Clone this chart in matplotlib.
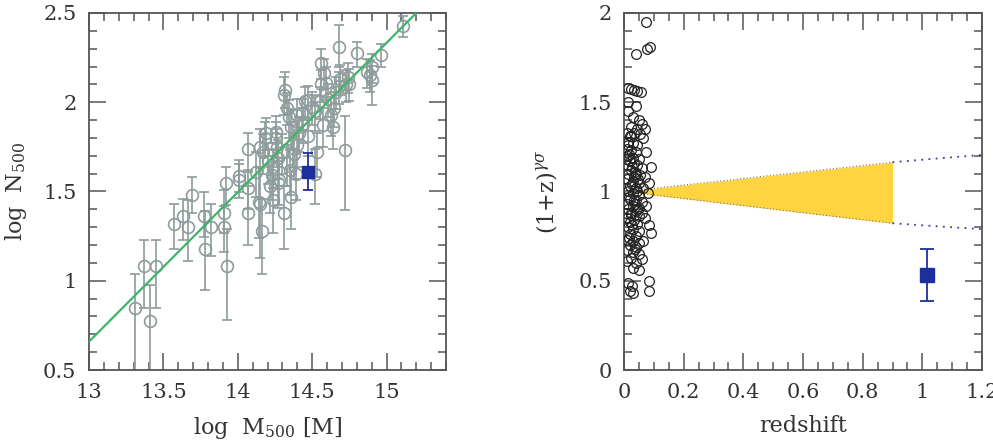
import matplotlib
matplotlib.use("Agg")
import matplotlib.pyplot as plt
from matplotlib.ticker import MultipleLocator, FuncFormatter
import numpy as np

plt.rcParams['font.family'] = ['DejaVu Serif']
plt.rcParams['mathtext.fontset'] = 'dejavuserif'

# ---------------- Left panel data: log M500, log N500, errors ----------------
logM = [13.31, 13.37, 13.41, 13.45, 13.57, 13.635, 13.665, 13.69, 13.77, 13.78,
        13.82, 13.91, 13.91, 13.92, 13.93, 14.01, 14.01, 14.07, 14.07, 14.07,
        14.14, 14.15, 14.16, 14.15, 14.18, 14.19, 14.17, 14.20, 14.22, 14.24,
        14.255, 14.255, 14.24, 14.265, 14.27, 14.28, 14.31, 14.31, 14.32, 14.33,
        14.345, 14.355, 14.36, 14.37, 14.38, 14.39, 14.40, 14.41, 14.43, 14.45,
        14.47, 14.50, 14.52, 14.52, 14.53, 14.55, 14.56, 14.56, 14.57, 14.58,
        14.59, 14.61, 14.63, 14.64, 14.65, 14.66, 14.68, 14.68, 14.69, 14.72,
        14.73, 14.74, 14.75, 14.80, 14.87, 14.89, 14.90, 14.90, 14.96, 15.11,
        14.30, 14.33, 14.35, 14.27, 14.23, 14.40, 14.44, 14.12, 14.47]
logN = [0.846, 1.08, 0.777, 1.08, 1.32, 1.36, 1.30, 1.48, 1.365, 1.18,
        1.30, 1.38, 1.30, 1.545, 1.08, 1.585, 1.565, 1.74, 1.52, 1.38,
        1.44, 1.43, 1.28, 1.75, 1.80, 1.83, 1.72, 1.67, 1.53, 1.64,
        1.835, 1.80, 1.45, 1.75, 1.69, 1.565, 1.38, 2.04, 2.07, 1.97,
        1.92, 1.86, 1.47, 1.77, 1.71, 1.60, 1.93, 1.83, 1.94, 2.005,
        2.01, 1.975, 1.95, 1.60, 1.72, 2.005, 2.22, 2.10, 1.87, 2.165,
        2.11, 2.02, 1.93, 1.86, 1.97, 2.06, 2.31, 2.09, 2.13, 1.735,
        2.10, 2.14, 2.105, 2.275, 2.17, 2.155, 2.20, 2.125, 2.265, 2.425,
        1.72, 1.66, 1.62, 1.55, 1.59, 1.76, 1.88, 1.61, 1.81]
errN_lo = [0.40, 0.23, 0.35, 0.23, 0.14, 0.13, 0.19, 0.10, 0.12, 0.23,
           0.16, 0.11, 0.14, 0.12, 0.30, 0.09, 0.10, 0.13, 0.12, 0.18,
           0.20, 0.30, 0.24, 0.12, 0.10, 0.10, 0.12, 0.13, 0.15, 0.12,
           0.10, 0.11, 0.18, 0.11, 0.12, 0.14, 0.20, 0.11, 0.10, 0.10,
           0.12, 0.12, 0.18, 0.13, 0.14, 0.15, 0.10, 0.11, 0.10, 0.09,
           0.10, 0.10, 0.11, 0.17, 0.14, 0.10, 0.09, 0.10, 0.12, 0.09,
           0.10, 0.10, 0.12, 0.12, 0.11, 0.10, 0.11, 0.10, 0.09, 0.34,
           0.10, 0.09, 0.10, 0.08, 0.09, 0.10, 0.09, 0.14, 0.07, 0.06,
           0.12, 0.13, 0.14, 0.14, 0.14, 0.12, 0.11, 0.14, 0.11]
errN_hi = [0.19, 0.15, 0.20, 0.15, 0.11, 0.10, 0.15, 0.10, 0.13, 0.21,
           0.13, 0.13, 0.12, 0.09, 0.21, 0.09, 0.09, 0.09, 0.10, 0.15,
           0.20, 0.20, 0.18, 0.10, 0.09, 0.08, 0.10, 0.10, 0.12, 0.10,
           0.09, 0.09, 0.14, 0.10, 0.10, 0.12, 0.15, 0.10, 0.10, 0.08,
           0.09, 0.10, 0.14, 0.10, 0.10, 0.11, 0.09, 0.09, 0.08, 0.08,
           0.08, 0.08, 0.09, 0.14, 0.11, 0.08, 0.08, 0.08, 0.10, 0.08,
           0.09, 0.08, 0.10, 0.10, 0.09, 0.08, 0.12, 0.08, 0.08, 0.19,
           0.08, 0.08, 0.08, 0.06, 0.07, 0.08, 0.07, 0.08, 0.06, 0.06,
           0.10, 0.10, 0.11, 0.12, 0.11, 0.10, 0.09, 0.11, 0.09]

# special (blue) object, left panel
blue_logM = [14.47]
blue_logN = [1.612]
blue_logN_lo = [0.106]
blue_logN_hi = [0.103]

# best-fit relation (endpoints)
fit_logM = [13.0, 15.2]
fit_logN = [0.659, 2.5]

# ---------------- Right panel data: redshift, (1+z)^gamma ----------------
z_obs = [0.074, 0.078, 0.088, 0.040, 0.012, 0.022, 0.033, 0.045, 0.058, 0.012,
         0.040, 0.015, 0.030, 0.050, 0.060, 0.025, 0.045, 0.070, 0.010, 0.020,
         0.035, 0.055, 0.065, 0.012, 0.030, 0.045, 0.010, 0.025, 0.040, 0.075,
         0.015, 0.030, 0.050, 0.020, 0.035, 0.010, 0.045, 0.060, 0.090, 0.025,
         0.015, 0.040, 0.055, 0.070, 0.010, 0.030, 0.050, 0.085, 0.020, 0.040,
         0.065, 0.012, 0.030, 0.050, 0.080, 0.020, 0.040, 0.060, 0.010, 0.030,
         0.050, 0.075, 0.015, 0.040, 0.060, 0.025, 0.050, 0.010, 0.035, 0.070,
         0.020, 0.045, 0.085, 0.012, 0.030, 0.090, 0.050, 0.020, 0.040, 0.010,
         0.030, 0.050, 0.065, 0.020, 0.040, 0.010, 0.030, 0.050, 0.025, 0.060,
         0.010, 0.040, 0.030, 0.050, 0.015, 0.028, 0.020, 0.030, 0.085, 0.085,
         0.008, 0.018, 0.028, 0.038, 0.048, 0.008, 0.018, 0.028, 0.038, 0.022,
         0.032, 0.042, 0.015, 0.025, 0.035, 0.045, 0.018, 0.028, 0.038, 0.008]
gamma_obs = [1.95, 1.80, 1.81, 1.77, 1.58, 1.575, 1.57, 1.565, 1.56, 1.50,
             1.48, 1.45, 1.42, 1.40, 1.38, 1.36, 1.35, 1.35, 1.33, 1.31,
             1.33, 1.32, 1.30, 1.28, 1.27, 1.26, 1.24, 1.23, 1.22, 1.22,
             1.20, 1.19, 1.18, 1.17, 1.16, 1.15, 1.15, 1.13, 1.14, 1.12,
             1.10, 1.10, 1.09, 1.08, 1.07, 1.06, 1.05, 1.05, 1.03, 1.02,
             1.02, 1.00, 0.99, 0.98, 0.99, 0.96, 0.95, 0.94, 0.93, 0.92,
             0.91, 0.92, 0.90, 0.89, 0.88, 0.87, 0.86, 0.85, 0.84, 0.85,
             0.83, 0.82, 0.81, 0.80, 0.79, 0.77, 0.78, 0.76, 0.75, 0.73,
             0.72, 0.71, 0.72, 0.70, 0.69, 0.67, 0.66, 0.65, 0.63, 0.62,
             0.61, 0.60, 0.57, 0.56, 0.49, 0.47, 0.44, 0.43, 0.50, 0.44,
             1.18, 1.21, 1.14, 1.11, 1.07, 1.02, 0.97, 1.04, 0.93, 0.88,
             0.95, 1.00, 1.26, 1.31, 1.08, 0.90, 0.74, 0.81, 0.68, 0.88]

# special (blue) object, right panel
blue_z = [1.016]
blue_gamma = [0.533]
blue_gamma_lo = [0.144]
blue_gamma_hi = [0.145]

# allowed evolution band
band_z = [0.0, 0.9]
band_hi = [1.0, 1.164]
band_lo = [1.0, 0.822]
ext_z = [0.9, 1.05, 1.2]
ext_hi = [1.164, 1.185, 1.205]
ext_lo = [0.822, 0.805, 0.789]

# ---------------- Figure ----------------
fig = plt.figure(figsize=(9.93, 4.44), dpi=100)
axL = fig.add_axes([89/993, 1-370/444, 357/993, 357/444])
axR = fig.add_axes([624/993, 1-370/444, 358/993, 357/444])

gray = '#8e9c9c'
blue = '#1c2f9c'
frame = '#555555'
txt = '#333333'
gfmt = FuncFormatter(lambda v, p: f'{round(v, 6):g}')

def style(ax, xmaj, xmin, ymaj, ymin):
    ax.xaxis.set_major_locator(MultipleLocator(xmaj))
    ax.xaxis.set_minor_locator(MultipleLocator(xmin))
    ax.yaxis.set_major_locator(MultipleLocator(ymaj))
    ax.yaxis.set_minor_locator(MultipleLocator(ymin))
    ax.xaxis.set_major_formatter(gfmt)
    ax.yaxis.set_major_formatter(gfmt)
    ax.tick_params(which='both', direction='in', top=True, right=True,
                   color=frame, width=1.1, labelsize=15, labelcolor=txt)
    ax.tick_params(which='major', length=12, pad=9)
    ax.tick_params(which='minor', length=6)
    for s in ax.spines.values():
        s.set_color(frame)
        s.set_linewidth(1.3)

# Left panel
axL.errorbar(logM, logN, yerr=[errN_lo, errN_hi], fmt='o', ms=8.5, mfc='none',
             mec=gray, mew=1.2, ecolor=gray, elinewidth=1.2, capsize=3.5,
             capthick=1.2, zorder=2)
axL.plot(fit_logM, fit_logN, color='#3cb56a', lw=1.6, zorder=3)
axL.errorbar(blue_logM, blue_logN, yerr=[blue_logN_lo, blue_logN_hi], fmt='s',
             ms=9, color=blue, ecolor=blue, elinewidth=1.3, capsize=3.5,
             capthick=1.3, zorder=4)
axL.set_xlim(13, 15.4)
axL.set_ylim(0.5, 2.5)
style(axL, 0.5, 0.1, 0.5, 0.1)
axL.set_xlabel(r'log  M$_{500}$ [M]', fontsize=16, color=txt, labelpad=10)
axL.set_ylabel(r'log  N$_{500}$', fontsize=16, color=txt, labelpad=10)

# Right panel
axR.fill_between(band_z, band_lo, band_hi, color='#ffd440', lw=0, zorder=1)
axR.plot(band_z, band_hi, ls=(0, (1, 2)), color='#777766', lw=0.8, zorder=2)
axR.plot(band_z, band_lo, ls=(0, (1, 2)), color='#777766', lw=0.8, zorder=2)
axR.plot(ext_z, ext_hi, ls=(0, (1, 3)), color='#3a3aa8', lw=1.3, zorder=2)
axR.plot(ext_z, ext_lo, ls=(0, (1, 3)), color='#3a3aa8', lw=1.3, zorder=2)
axR.plot(z_obs, gamma_obs, 'o', ms=7, mfc='none', mec='#222222', mew=0.9,
         zorder=3)
axR.errorbar(blue_z, blue_gamma, yerr=[blue_gamma_lo, blue_gamma_hi], fmt='s',
             ms=10, color=blue, ecolor=blue, elinewidth=1.3, capsize=5,
             capthick=1.3, zorder=4)
axR.set_xlim(0, 1.2)
axR.set_ylim(0, 2)
style(axR, 0.2, 0.05, 0.5, 0.1)
axR.set_xlabel('redshift', fontsize=16, color=txt, labelpad=10)
axR.set_ylabel(r'(1+z)$^{\gamma\sigma}$', fontsize=16, color=txt, labelpad=14)

fig.savefig('out.png', dpi=100)
